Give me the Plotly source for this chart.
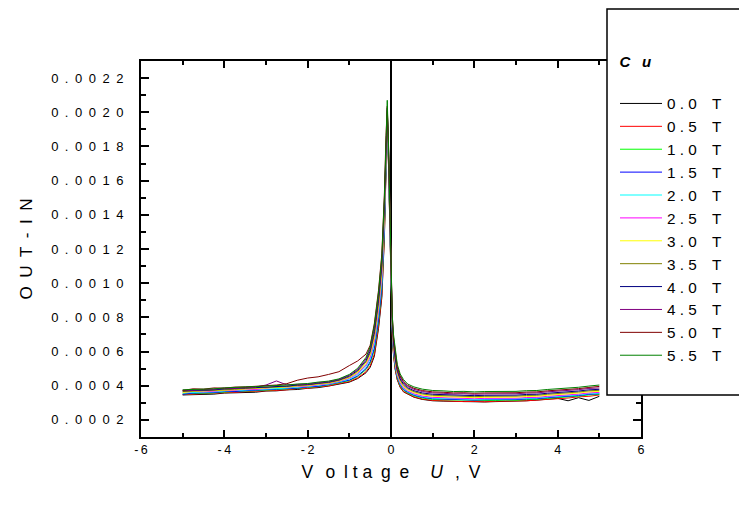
import plotly.graph_objects as go

# Voltage grid (V)
voltage = [-5.0, -4.75, -4.5, -4.25, -4.0, -3.75, -3.5, -3.25, -3.0, -2.75, -2.5, -2.25,
           -2.0, -1.75, -1.5, -1.25,
           -1.0, -0.8, -0.6, -0.5, -0.4, -0.3, -0.22, -0.16, -0.12, -0.09, -0.06, -0.03,
           0.0, 0.03, 0.06, 0.1, 0.15, 0.22, 0.3, 0.4, 0.55, 0.75,
           1.0, 1.25, 1.5, 1.75, 2.0, 2.25, 2.5, 2.75, 3.0, 3.25, 3.5, 3.75, 4.0, 4.25,
           4.5, 4.75, 5.0]

# OUT - IN values in units of 1e-6
cu_0_0 = [346, 347, 352, 351, 357, 358, 363, 362, 369, 370, 376, 378, 385, 389, 398, 410,
          421, 442, 476, 508, 572, 734, 916, 1256, 1672, 1950, 1688, 1290, 890, 688, 580, 496,
          435, 391, 364, 350, 333, 320,
          312, 310, 308, 306, 306, 305, 307, 308, 309, 312, 316, 322, 326, 312, 330, 314, 338]
cu_0_5 = [348, 351, 350, 357, 357, 362, 363, 368, 369, 374, 376, 383, 385, 393, 399, 413,
          424, 446, 482, 516, 584, 748, 932, 1272, 1684, 1960, 1696, 1300, 900, 696, 584, 500,
          438, 394, 366, 352, 335, 322,
          314, 312, 309, 307, 308, 306, 309, 308, 311, 312, 316, 318, 325, 328, 335, 338, 346]
cu_1_0 = [352, 353, 358, 358, 363, 364, 369, 371, 373, 378, 382, 384, 391, 395, 405, 416,
          430, 454, 494, 532, 608, 776, 964, 1304, 1708, 1970, 1712, 1320, 920, 712, 596, 510,
          447, 401, 374, 358, 341, 328,
          319, 318, 314, 315, 312, 314, 313, 316, 315, 319, 320, 326, 329, 336, 339, 346, 349]
cu_1_5 = [350, 357, 359, 360, 366, 366, 371, 373, 375, 380, 384, 386, 393, 397, 407, 418,
          433, 458, 500, 540, 620, 790, 980, 1320, 1720, 1975, 1720, 1330, 930, 720, 604, 518,
          453, 407, 378, 362, 345, 332,
          324, 322, 318, 319, 316, 318, 317, 320, 319, 323, 324, 330, 333, 340, 343, 350, 353]
cu_2_0 = [358, 359, 363, 364, 369, 370, 375, 377, 379, 384, 386, 392, 395, 403, 409, 422,
          439, 466, 512, 556, 644, 818, 1012, 1352, 1744, 1985, 1736, 1350, 950, 736, 612, 525,
          459, 412, 383, 366, 349, 336,
          328, 326, 322, 323, 320, 322, 321, 324, 323, 327, 328, 334, 337, 344, 347, 354, 357]
cu_2_5 = [362, 366, 364, 369, 372, 373, 380, 378, 384, 396, 392, 395, 398, 406, 412, 425,
          444, 472, 521, 568, 662, 839, 1036, 1376, 1762, 1990, 1748, 1365, 965, 748, 620, 532,
          465, 417, 388, 370, 353, 340,
          332, 330, 326, 327, 324, 326, 325, 328, 327, 331, 332, 338, 341, 348, 351, 358, 361]
cu_3_0 = [360, 367, 369, 370, 375, 376, 381, 383, 385, 390, 392, 398, 401, 409, 415, 428,
          448, 478, 530, 580, 680, 860, 1060, 1400, 1780, 1995, 1760, 1380, 980, 760, 632, 543,
          474, 425, 395, 376, 359, 346,
          338, 336, 332, 333, 330, 332, 331, 334, 333, 337, 338, 344, 347, 354, 357, 364, 367]
cu_3_5 = [366, 368, 372, 373, 378, 379, 384, 386, 388, 393, 395, 401, 404, 412, 418, 431,
          452, 484, 539, 592, 698, 881, 1084, 1424, 1798, 2005, 1772, 1395, 995, 772, 644, 554,
          483, 433, 402, 382, 365, 352,
          344, 342, 338, 339, 336, 338, 337, 340, 339, 343, 344, 350, 353, 360, 363, 370, 373]
cu_4_0 = [370, 371, 375, 376, 381, 382, 387, 389, 391, 396, 398, 404, 407, 415, 421, 434,
          457, 490, 548, 604, 716, 902, 1108, 1448, 1816, 2015, 1784, 1410, 1010, 784, 656, 564,
          492, 440, 410, 388, 371, 358,
          350, 348, 344, 345, 342, 344, 343, 346, 345, 349, 350, 356, 359, 366, 369, 376, 379]
cu_4_5 = [374, 373, 378, 379, 386, 384, 390, 392, 404, 428, 405, 407, 410, 418, 424, 437,
          462, 496, 557, 616, 734, 923, 1132, 1472, 1834, 2025, 1796, 1425, 1025, 796, 672, 579,
          504, 451, 419, 396, 379, 366,
          358, 356, 352, 353, 350, 352, 351, 354, 353, 357, 358, 364, 367, 374, 377, 384, 387]
cu_5_0 = [372, 382, 380, 387, 386, 392, 393, 397, 399, 404, 412, 432, 445, 452, 466, 482,
          518, 545, 585, 636, 764, 958, 1172, 1512, 1864, 2035, 1816, 1450, 1050, 816, 684, 590,
          513, 459, 426, 402, 385, 372,
          364, 362, 358, 359, 356, 358, 357, 360, 359, 363, 364, 370, 373, 380, 383, 390, 396]
cu_5_5 = [376, 377, 381, 382, 387, 388, 393, 395, 397, 402, 404, 410, 413, 421, 427, 440,
          466, 502, 566, 628, 752, 944, 1156, 1496, 1852, 2070, 1808, 1440, 1040, 808, 700, 604,
          525, 469, 436, 410, 393, 380,
          372, 370, 366, 367, 364, 366, 365, 368, 367, 371, 372, 378, 381, 388, 391, 398, 404]

series_names = ["0 . 0\u2003T", "0 . 5\u2003T", "1 . 0\u2003T", "1 . 5\u2003T", "2 . 0\u2003T",
                "2 . 5\u2003T", "3 . 0\u2003T", "3 . 5\u2003T", "4 . 0\u2003T", "4 . 5\u2003T",
                "5 . 0\u2003T", "5 . 5\u2003T"]
series_colors = ["#000000", "#ff0000", "#00ff00", "#0000ff", "#00ffff", "#ff00ff",
                 "#ffff00", "#808000", "#000080", "#800080", "#800000", "#008000"]
series_values = [cu_0_0, cu_0_5, cu_1_0, cu_1_5, cu_2_0, cu_2_5,
                 cu_3_0, cu_3_5, cu_4_0, cu_4_5, cu_5_0, cu_5_5]

x_tick_vals = [-6, -4, -2, 0, 2, 4, 6]
x_tick_text = ["-\u20096", "-\u20094", "-\u20092", "0", "2", "4", "6"]
y_tick_vals = [0.0002, 0.0004, 0.0006, 0.0008, 0.0010, 0.0012, 0.0014, 0.0016, 0.0018, 0.0020, 0.0022]
y_tick_text = ["0\u2002.\u20020\u20020\u20020\u20022", "0\u2002.\u20020\u20020\u20020\u20024",
               "0\u2002.\u20020\u20020\u20020\u20026", "0\u2002.\u20020\u20020\u20020\u20028",
               "0\u2002.\u20020\u20020\u20021\u20020", "0\u2002.\u20020\u20020\u20021\u20022",
               "0\u2002.\u20020\u20020\u20021\u20024", "0\u2002.\u20020\u20020\u20021\u20026",
               "0\u2002.\u20020\u20020\u20021\u20028", "0\u2002.\u20020\u20020\u20022\u20020",
               "0\u2002.\u20020\u20020\u20022\u20022"]

FONT = "Liberation Sans, Arial, sans-serif"

fig = go.Figure()
for name, color, vals in zip(series_names, series_colors, series_values):
    fig.add_trace(go.Scatter(x=voltage, y=[v * 1e-6 for v in vals], mode="lines", name=name,
                             line=dict(color=color, width=1)))

# legend frame (extends past the right edge of the page, as in the original)
fig.add_shape(type="rect", xref="paper", yref="paper", x0=0.932, x1=1.3, y0=0.1117, y1=1.1383,
              line=dict(color="black", width=1.5), fillcolor="white", layer="above")

fig.update_layout(
    width=739, height=520,
    margin=dict(l=141, r=98, t=61, b=83, autoexpand=False),
    paper_bgcolor="white", plot_bgcolor="white",
    font=dict(family=FONT, color="black", size=12),
    showlegend=True,
    legend=dict(x=0.932, xanchor="left", y=1.1383, yanchor="top",
                borderwidth=0, bgcolor="rgba(0,0,0,0)",
                font=dict(size=15.3, family=FONT, color="black"),
                title=dict(text="<br><br>\u2002\u2009<b><i>C\u2002 u</i></b><br>", font=dict(size=15, family=FONT)),
                itemwidth=42, indentation=8,
                tracegroupgap=0, maxheight=500),
    xaxis=dict(range=[-6, 6], tickmode="array", tickvals=x_tick_vals, ticktext=x_tick_text,
               ticks="inside", ticklen=7, tickwidth=1.5, tickcolor="black",
               minor=dict(tick0=-5, dtick=2, ticks="inside", ticklen=4, tickwidth=1.5, tickcolor="black"),
               showline=True, linewidth=2, linecolor="black", mirror="ticks",
               showgrid=False, zeroline=True, zerolinecolor="black", zerolinewidth=2,
               tickfont=dict(size=12.5),
               title=dict(text="V\u2002\u2009o\u2002l t a\u2002g\u2002e\u2003\u2009<i>U</i>\u2002\u2009,\u2002V\u2003\u2002",
                          font=dict(size=17.5), standoff=10)),
    yaxis=dict(range=[0.0001, 0.0023], tickmode="array", tickvals=y_tick_vals, ticktext=y_tick_text,
               ticks="inside", ticklen=8, tickwidth=1.5, tickcolor="black", ticklabelstandoff=13,
               minor=dict(tick0=0.0001, dtick=0.0002, ticks="inside", ticklen=5, tickwidth=1.5, tickcolor="black"),
               showline=True, linewidth=2, linecolor="black", mirror="ticks",
               showgrid=False, zeroline=False,
               tickfont=dict(size=13),
               title=dict(text="O\u2002U\u2002T\u2002-\u2002I\u2002N\u2002\u2009",
                          font=dict(size=17), standoff=14)),
)

fig.write_html("out.html")
